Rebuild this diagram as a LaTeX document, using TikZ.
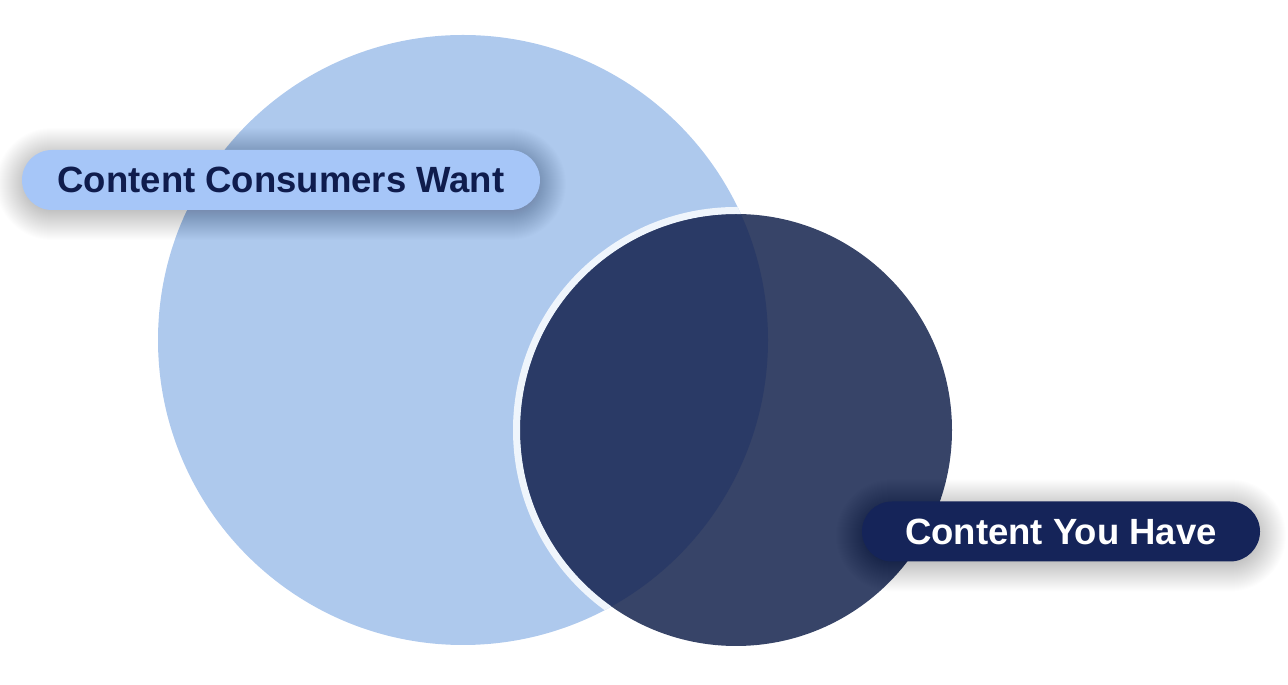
\documentclass[tikz,border=0pt]{standalone}
\usepackage{fontspec}
\setmainfont{Liberation Sans}
\definecolor{lightc}{HTML}{AEC9ED}
\definecolor{pillA}{HTML}{A6C6F8}
\definecolor{navytext}{HTML}{0F1C4D}
\definecolor{darkc}{HTML}{374468}
\definecolor{overlapc}{HTML}{2A3A66}
\definecolor{pillB}{HTML}{152459}
\definecolor{ringc}{HTML}{EFF5FC}
\tikzset{
  pill/.style={rounded corners=30pt, minimum height=60pt, inner sep=0pt,
    font=\fontsize{36.5}{42}\selectfont\bfseries},
  softshadow/.style={fill=black, fill opacity=0.009},
}
\newcommand\pillshadow[2]{% center coordinate, half width
  \foreach \d in {-15,-14,...,26}{
    \pgfmathsetmacro\rr{30+\d}
    \pgfmathsetmacro\hw{#2+\d}
    \pgfmathsetmacro\hh{30+\d}
    \path[softshadow, rounded corners=\rr pt]
      ([shift={(-\hw,-\hh-4)}]#1) rectangle ([shift={(\hw,\hh-4)}]#1);
  }
}
\begin{document}
\begin{tikzpicture}[x=1pt,y=1pt]
\useasboundingbox (0,0) rectangle (1288,685);
\coordinate (want) at (463,345);
\coordinate (have) at (736,255);
\coordinate (pA) at (281,505);
\coordinate (pB) at (1061,153.5);
% light circle
\fill[lightc] (want) circle (305);
% dark circle
\fill[darkc] (have) circle (216);
% overlap
\begin{scope}
  \clip (want) circle (305);
  \fill[overlapc] (have) circle (216);
  \draw[ringc, line width=7pt] (have) circle (219.5);
\end{scope}
% shadows
\pillshadow{pA}{259}
\pillshadow{pB}{199}
% pills
\node[pill, fill=pillA, text=navytext, minimum width=518pt] (lblwant) at (pA) {Content Consumers Want};
\node[pill, fill=pillB, text=white, minimum width=398pt] (lblhave) at (pB) {Content You Have};
\end{tikzpicture}
\end{document}
